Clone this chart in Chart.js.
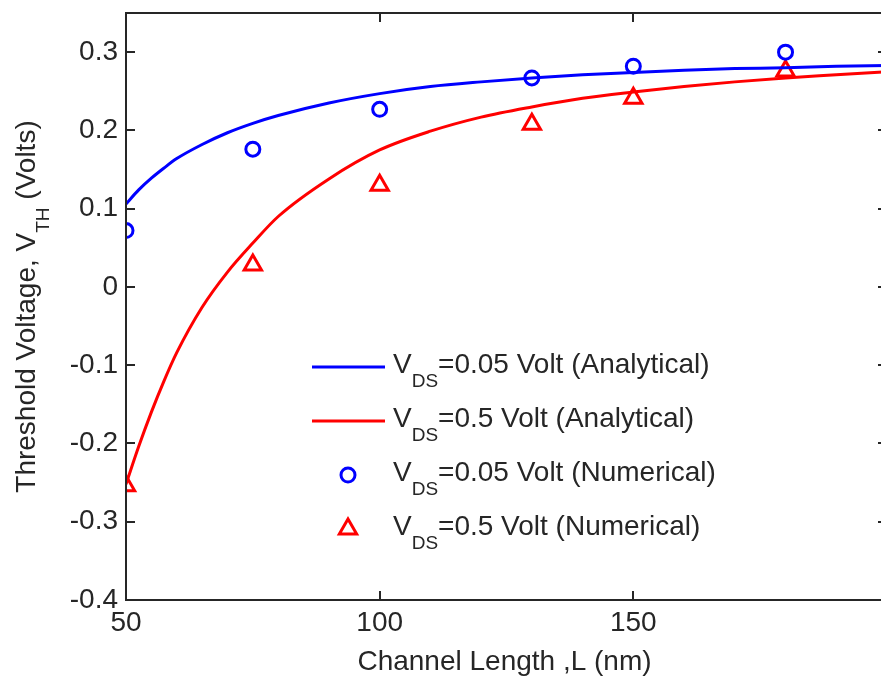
<!DOCTYPE html>
<html>
<head>
<meta charset="utf-8">
<script src="https://cdn.jsdelivr.net/npm/chart.js@4.4.1/dist/chart.umd.min.js"></script>
<style>
  html, body { margin: 0; padding: 0; overflow: hidden; background: #ffffff; }
  #wrap { width: 900px; height: 678px; }
</style>
</head>
<body>
<div id="wrap"><canvas id="c" width="900" height="678"></canvas></div>
<script>
// Channel length samples (nm) for the analytical model curves
const curveL = [50, 52.5, 55, 57.5, 60, 65, 70, 75, 80, 90, 100, 110, 120, 130, 140, 150, 160, 170, 180, 190, 200];
// Threshold voltage (V), analytical model, VDS = 0.05 V
const vthAnalytic005 = [0.106, 0.124, 0.139, 0.152, 0.164, 0.182, 0.197, 0.209, 0.219, 0.235, 0.247, 0.256, 0.262, 0.267, 0.271, 0.274, 0.277, 0.279, 0.280, 0.282, 0.283];
// Threshold voltage (V), analytical model, VDS = 0.5 V
const vthAnalytic05 = [-0.252, -0.204, -0.160, -0.120, -0.084, -0.026, 0.019, 0.056, 0.090, 0.138, 0.175, 0.199, 0.217, 0.230, 0.241, 0.249, 0.256, 0.262, 0.267, 0.271, 0.275];

// Simulated devices
const simL = [50, 75, 100, 130, 150, 180];
const vthNumeric005 = [0.072, 0.176, 0.227, 0.267, 0.282, 0.300];
const vthNumeric05 = [-0.254, 0.028, 0.130, 0.208, 0.241, 0.276];

// Axis ticks
const xTicks = [50, 100, 150];
const xFrameTicks = [50, 100, 150, 200];
const yTicks = [-0.4, -0.3, -0.2, -0.1, 0, 0.1, 0.2, 0.3];

// Legend labels: [main, subscript, rest]
const legendLabels = [
  ['V', 'DS', '=0.05 Volt (Analytical)'],
  ['V', 'DS', '=0.5 Volt (Analytical)'],
  ['V', 'DS', '=0.05 Volt (Numerical)'],
  ['V', 'DS', '=0.5 Volt (Numerical)']
];
const yTitle = ['Threshold Voltage, V', 'TH', ' (Volts)'];
const xTitle = 'Channel Length ,L (nm)';

const FONT = "'Liberation Sans', Arial, Helvetica, sans-serif";
const INK = '#262626';
const BLUE = '#0000ff';
const RED = '#ff0000';

const pairs = (xs, ys) => xs.map((x, i) => ({ x: x, y: ys[i] }));

// Text with a subscript run: [main, sub, rest]
function drawSubText(ctx, parts, x, baseline, big, small, drop) {
  ctx.textBaseline = 'alphabetic';
  ctx.textAlign = 'left';
  ctx.font = big + 'px ' + FONT;
  ctx.fillText(parts[0], x, baseline);
  x += ctx.measureText(parts[0]).width;
  ctx.font = small + 'px ' + FONT;
  ctx.fillText(parts[1], x, baseline + drop);
  x += ctx.measureText(parts[1]).width;
  ctx.font = big + 'px ' + FONT;
  ctx.fillText(parts[2], x, baseline);
}
function subTextWidth(ctx, parts, big, small) {
  ctx.font = big + 'px ' + FONT;
  let w = ctx.measureText(parts[0]).width + ctx.measureText(parts[2]).width;
  ctx.font = small + 'px ' + FONT;
  return w + ctx.measureText(parts[1]).width;
}

// Box frame with inward tick marks on all four sides
const framePlugin = {
  id: 'frame',
  afterDatasetsDraw(chart) {
    const { ctx, chartArea: a, scales } = chart;
    const tl = 9;
    ctx.save();
    ctx.strokeStyle = INK;
    ctx.lineWidth = 2;
    ctx.strokeRect(a.left, a.top, a.right - a.left, a.bottom - a.top);
    ctx.beginPath();
    xFrameTicks.forEach(v => {
      const px = Math.round(scales.x.getPixelForValue(v));
      ctx.moveTo(px, a.bottom); ctx.lineTo(px, a.bottom - tl);
      ctx.moveTo(px, a.top); ctx.lineTo(px, a.top + tl);
    });
    yTicks.forEach(v => {
      const py = Math.round(scales.y.getPixelForValue(v));
      ctx.moveTo(a.left, py); ctx.lineTo(a.left + tl, py);
      ctx.moveTo(a.right, py); ctx.lineTo(a.right - tl, py);
    });
    ctx.stroke();
    ctx.restore();
  }
};

// Axis titles (the y title carries a subscript)
const titlePlugin = {
  id: 'titles',
  afterDraw(chart) {
    const { ctx, chartArea: a } = chart;
    ctx.save();
    ctx.fillStyle = INK;
    ctx.font = '28px ' + FONT;
    ctx.textAlign = 'center';
    ctx.textBaseline = 'alphabetic';
    ctx.fillText(xTitle, (a.left + a.right) / 2 - 2, a.bottom + 70);
    const cy = (a.top + a.bottom) / 2;
    ctx.translate(35, cy);
    ctx.rotate(-Math.PI / 2);
    const w = subTextWidth(ctx, yTitle, 28, 19);
    drawSubText(ctx, yTitle, -w / 2, 0, 28, 19, 14);
    ctx.restore();
  }
};

// Legend with subscripted labels, no box
const legendPlugin = {
  id: 'subLegend',
  afterDraw(chart) {
    const { ctx, chartArea: a } = chart;
    const x0 = a.left + 186, y0 = a.top + 354, dy = 54;
    chart.data.datasets.forEach((ds, i) => {
      const y = y0 + i * dy;
      ctx.save();
      if (ds.showLine) {
        ctx.strokeStyle = ds.borderColor;
        ctx.lineWidth = ds.borderWidth;
        ctx.beginPath();
        ctx.moveTo(x0, y); ctx.lineTo(x0 + 73, y);
        ctx.stroke();
      } else {
        ctx.strokeStyle = ds.borderColor;
        ctx.fillStyle = 'rgba(0,0,0,0)';
        ctx.lineWidth = ds.pointBorderWidth;
        Chart.helpers.drawPoint(ctx, {
          pointStyle: ds.pointStyle, rotation: 0,
          radius: ds.pointRadius, borderWidth: ds.pointBorderWidth
        }, x0 + 36, y);
      }
      ctx.fillStyle = INK;
      drawSubText(ctx, legendLabels[i], x0 + 81, y + 6, 28, 19, 14);
      ctx.restore();
    });
  }
};

// Scales keep their box sizes fixed and add no edge-label padding
const noPad = s => { s.paddingTop = 0; s.paddingBottom = 0; s.paddingLeft = 0; s.paddingRight = 0; };

new Chart(document.getElementById('c'), {
  type: 'scatter',
  data: {
    datasets: [
      {
        data: pairs(curveL, vthAnalytic005), showLine: true, borderColor: BLUE,
        borderWidth: 3, pointRadius: 0, cubicInterpolationMode: 'monotone', fill: false
      },
      {
        data: pairs(curveL, vthAnalytic05), showLine: true, borderColor: RED,
        borderWidth: 3, pointRadius: 0, cubicInterpolationMode: 'monotone', fill: false
      },
      {
        data: pairs(simL, vthNumeric005), showLine: false, borderColor: BLUE,
        backgroundColor: 'rgba(0,0,0,0)', pointStyle: 'circle', pointRadius: 7,
        pointBorderWidth: 3, pointBorderColor: BLUE, pointBackgroundColor: 'rgba(0,0,0,0)'
      },
      {
        data: pairs(simL, vthNumeric05), showLine: false, borderColor: RED,
        backgroundColor: 'rgba(0,0,0,0)', pointStyle: 'triangle', pointRadius: 10,
        pointBorderWidth: 3, pointBorderColor: RED, pointBackgroundColor: 'rgba(0,0,0,0)'
      }
    ]
  },
  options: {
    responsive: false,
    animation: false,
    devicePixelRatio: 1,
    layout: { padding: { top: 10, right: 10, left: 0, bottom: 0 } },
    plugins: { legend: { display: false }, tooltip: { enabled: false } },
    events: [],
    scales: {
      x: {
        type: 'linear', position: 'bottom', min: 50, max: 200,
        grid: { display: false, drawTicks: false },
        border: { display: false },
        afterBuildTicks: s => { s.ticks = xTicks.map(v => ({ value: v })); },
        afterFit: s => { s.height = 78; noPad(s); },
        ticks: { color: INK, font: { family: FONT, size: 28 }, padding: 6, maxRotation: 0, autoSkip: false }
      },
      y: {
        type: 'linear', position: 'left', min: -0.4, max: 0.35,
        grid: { display: false, drawTicks: false },
        border: { display: false },
        afterBuildTicks: s => { s.ticks = yTicks.map(v => ({ value: v })); },
        afterFit: s => { s.width = 126; noPad(s); },
        ticks: {
          color: INK, font: { family: FONT, size: 28 }, padding: 8, autoSkip: false,
          callback: v => String(Math.round(v * 10) / 10)
        }
      }
    }
  },
  plugins: [framePlugin, titlePlugin, legendPlugin]
});
</script>
</body>
</html>
